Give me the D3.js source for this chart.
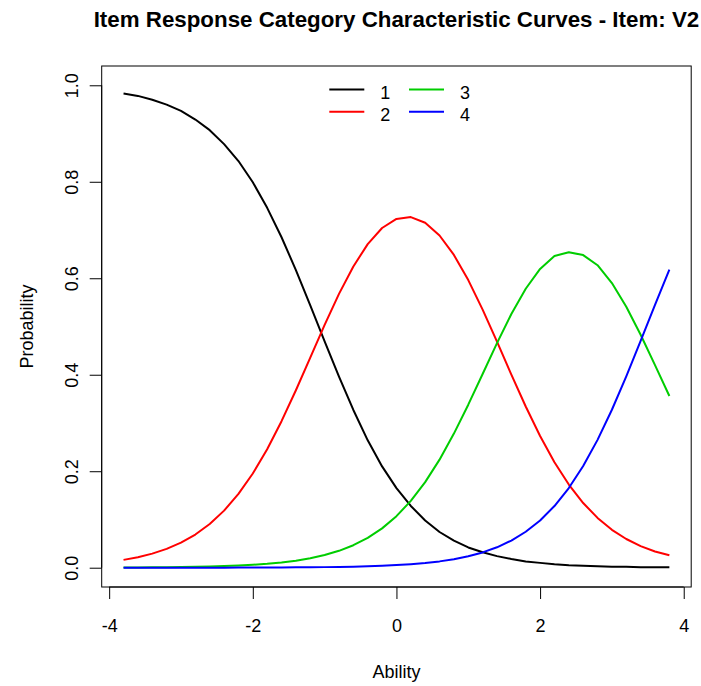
<!DOCTYPE html>
<html>
<head>
<meta charset="utf-8">
<script src="https://cdn.jsdelivr.net/npm/d3@7"></script>
<style>
  body { margin: 0; background: #fff; }
  svg { display: block; font-family: "Liberation Sans", Arial, sans-serif; }
</style>
</head>
<body>
<svg id="chart" width="701" height="686"></svg>
<script>
// ---- data ----
const ability = [-3.8,-3.6,-3.4,-3.2,-3.0,-2.8,-2.6,-2.4,-2.2,-2.0,-1.8,-1.6,-1.4,-1.2,-1.0,-0.8,-0.6,-0.4,-0.2,0.0,
                 0.2,0.4,0.6,0.8,1.0,1.2,1.4,1.6,1.8,2.0,2.2,2.4,2.6,2.8,3.0,3.2,3.4,3.6,3.8];
const cat1 = [0.983,0.978,0.970,0.960,0.947,0.929,0.907,0.878,0.843,0.799,0.746,0.685,0.617,0.544,0.469,0.396,0.327,0.264,0.210,0.165,
              0.128,0.098,0.074,0.056,0.042,0.032,0.024,0.018,0.013,0.010,0.007,0.005,0.004,0.003,0.002,0.002,0.001,0.001,0.001];
const cat2 = [0.0162,0.0218,0.0292,0.0390,0.0519,0.0687,0.0905,0.1183,0.1529,0.1952,0.2457,0.3037,0.3678,0.4354,0.5033,0.5676,0.6245,0.6708,0.7042,0.7230,
              0.7268,0.7151,0.6887,0.6483,0.5962,0.5351,0.4685,0.4003,0.3341,0.2729,0.2187,0.1724,0.1341,0.1032,0.0786,0.0595,0.0448,0.0336,0.0260];
const cat3 = [0.0004,0.0006,0.0007,0.0010,0.0013,0.0018,0.0024,0.0033,0.0044,0.0060,0.0080,0.0108,0.0145,0.0195,0.0262,0.0350,0.0466,0.0618,0.0815,0.1068,
              0.1385,0.1774,0.2240,0.2780,0.3379,0.4016,0.4656,0.5258,0.5783,0.6194,0.6462,0.6540,0.6480,0.6270,0.5900,0.5410,0.4830,0.4200,0.3560];
const cat4 = [0.0000,0.0000,0.0000,0.0000,0.0001,0.0001,0.0001,0.0001,0.0002,0.0003,0.0004,0.0005,0.0007,0.0009,0.0012,0.0016,0.0022,0.0030,0.0040,0.0054,
              0.0073,0.0098,0.0131,0.0176,0.0237,0.0317,0.0423,0.0563,0.0745,0.0980,0.1279,0.1652,0.2108,0.2650,0.3274,0.3965,0.4700,0.5449,0.6177];
const seriesNames = ["1","2","3","4"];
const seriesColors = ["#000000","#ff0000","#00cd00","#0000ff"];
const xTicks = [-4,-2,0,2,4];
const yTicks = [0.0,0.2,0.4,0.6,0.8,1.0];
const titleText = "Item Response Category Characteristic Curves - Item: V2";
const xLabel = "Ability";
const yLabel = "Probability";

(function () {
// ---- layout ----
const svg = d3.select("#chart");
const pL = 101.7, pR = 691.2, pT = 66, pB = 587;
const x = d3.scaleLinear().domain([-4.104, 4.104]).range([pL, pR]);
const y = d3.scaleLinear().domain([-0.04, 1.04]).range([pB, pT]);
const fs = 18;
const ff = "Liberation Sans, Arial, sans-serif";

// curves
const seriesVals = [cat1, cat2, cat3, cat4];
const line = d3.line().x(d => x(d[0])).y(d => y(d[1]));
seriesVals.forEach((vals, i) => {
  svg.append("path")
    .datum(ability.map((a, j) => [a, vals[j]]))
    .attr("d", line)
    .attr("fill", "none")
    .attr("stroke", seriesColors[i])
    .attr("stroke-width", 2)
    .attr("stroke-linejoin", "round");
});

// box
svg.append("rect")
  .attr("x", pL).attr("y", pT)
  .attr("width", pR - pL).attr("height", pB - pT)
  .attr("fill", "none").attr("stroke", "#000").attr("stroke-width", 1);

// x axis
const xAxis = d3.axisBottom(x).tickValues(xTicks).tickSize(12).tickSizeOuter(0).tickPadding(20)
  .tickFormat(d3.format("d"));
const gx = svg.append("g").attr("transform", `translate(0,${pB})`).call(xAxis);
gx.select(".domain").attr("d", `M${x(xTicks[0])},0H${x(xTicks[xTicks.length-1])}`).attr("stroke", "#000");
gx.selectAll(".tick line").attr("stroke", "#000");
gx.selectAll("text").attr("font-size", fs).attr("font-family", ff).attr("fill", "#000")
  .text(d => d < 0 ? "-" + Math.abs(d) : String(d));

// y axis
const yAxis = d3.axisLeft(y).tickValues(yTicks).tickSize(12).tickSizeOuter(0).tickFormat(d3.format(".1f"));
const gy = svg.append("g").attr("transform", `translate(${pL},0)`).call(yAxis);
gy.select(".domain").attr("d", `M0,${y(yTicks[0])}V${y(yTicks[yTicks.length-1])}`).attr("stroke", "#000");
gy.selectAll(".tick line").attr("stroke", "#000");
gy.selectAll(".tick text")
  .attr("x", null).attr("dy", null)
  .attr("transform", "translate(-24,0) rotate(-90)")
  .attr("text-anchor", "middle")
  .attr("font-size", fs).attr("font-family", ff).attr("fill", "#000");

// title
const t = svg.append("text")
  .attr("x", (pL + pR) / 2).attr("y", 27)
  .attr("text-anchor", "middle")
  .attr("font-weight", "bold")
  .attr("font-size", fs)
  .text(titleText);
const tw = t.node().getComputedTextLength();
t.attr("font-size", fs * 606 / tw);

// axis labels
svg.append("text").attr("x", (pL + pR) / 2).attr("y", 678)
  .attr("text-anchor", "middle").attr("font-size", fs).text(xLabel);
svg.append("text")
  .attr("transform", `translate(33,${(pT + pB) / 2}) rotate(-90)`)
  .attr("text-anchor", "middle").attr("font-size", fs).text(yLabel);

// legend
const legendItems = seriesNames.map((n, i) => ({name: n, color: seriesColors[i], col: Math.floor(i / 2), row: i % 2}));
const lg = svg.append("g");
legendItems.forEach(it => {
  const lx = 329.3 + it.col * 79.7;
  const ly = 89.5 + it.row * 22.2;
  lg.append("line").attr("x1", lx).attr("x2", lx + 35).attr("y1", ly).attr("y2", ly)
    .attr("stroke", it.color).attr("stroke-width", 2);
  lg.append("text").attr("x", lx + 56).attr("y", ly + 9)
    .attr("text-anchor", "middle").attr("font-size", fs).text(it.name);
});
})();
</script>
</body>
</html>
